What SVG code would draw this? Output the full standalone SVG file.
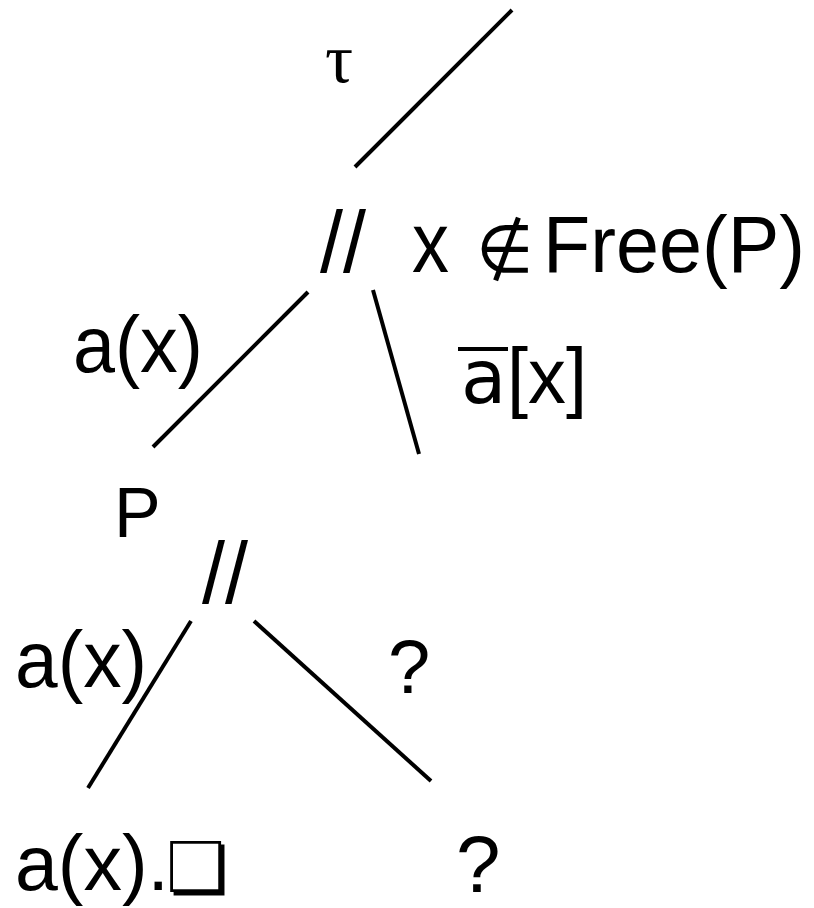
<svg xmlns="http://www.w3.org/2000/svg" width="814" height="908" viewBox="0 0 814 908">
<style>
  .t { font-family: "Liberation Sans", Arial, sans-serif; fill: #000; }
  .s { font-family: "Liberation Serif", serif; fill: #000; }
  .d { font-family: "DejaVu Sans", sans-serif; fill: #000; }
  .e { stroke: #000; stroke-width: 4; fill: none; stroke-linecap: butt; }
</style>
<rect width="814" height="908" fill="#fff"/>
<g id="edges">
  <line class="e" x1="512" y1="10" x2="355" y2="167"/>
  <line class="e" x1="308" y1="292" x2="153" y2="447"/>
  <line class="e" x1="373" y1="290" x2="419" y2="454"/>
  <line class="e" x1="191" y1="621" x2="88" y2="788"/>
  <line class="e" x1="254" y1="621" x2="431" y2="781"/>
</g>
<g id="edge-labels">
  <text class="s" x="325" y="82" font-size="70">τ</text>
  <text class="t" x="73" y="372" font-size="80" textLength="130" lengthAdjust="spacingAndGlyphs">a(x)</text>
  <g id="label-abar">
    <rect x="458" y="347" width="50" height="4" fill="#000"/>
    <text class="d" x="461" y="403" font-size="74">a</text>
    <text class="t" x="507" y="403" font-size="78" textLength="80" lengthAdjust="spacingAndGlyphs">[x]</text>
  </g>
  <text class="t" x="15" y="687" font-size="80" textLength="132" lengthAdjust="spacingAndGlyphs">a(x)</text>
  <text class="t" x="388" y="693" font-size="76">?</text>
</g>
<g id="node-root-par">
  <text class="t" x="320" y="272" font-size="88" textLength="46" lengthAdjust="spacingAndGlyphs">//</text>
  <text class="t" x="412" y="272" font-size="85" textLength="37" lengthAdjust="spacingAndGlyphs">x</text>
  <text class="d" x="476" y="272" font-size="66">∉</text>
  <text class="t" x="543" y="272" font-size="79" textLength="262" lengthAdjust="spacingAndGlyphs">Free(P)</text>
</g>
<g id="node-P">
  <text class="t" x="114" y="537" font-size="70">P</text>
</g>
<g id="node-par2">
  <text class="t" x="202" y="603" font-size="88" textLength="46" lengthAdjust="spacingAndGlyphs">//</text>
</g>
<g id="node-leaf-left">
  <text class="t" x="15" y="890" font-size="77">a(x).<tspan class="d" font-size="70" dx="-3" dy="2">❏</tspan></text>
</g>
<g id="node-leaf-right">
  <text class="t" x="456" y="892" font-size="80">?</text>
</g>
</svg>
